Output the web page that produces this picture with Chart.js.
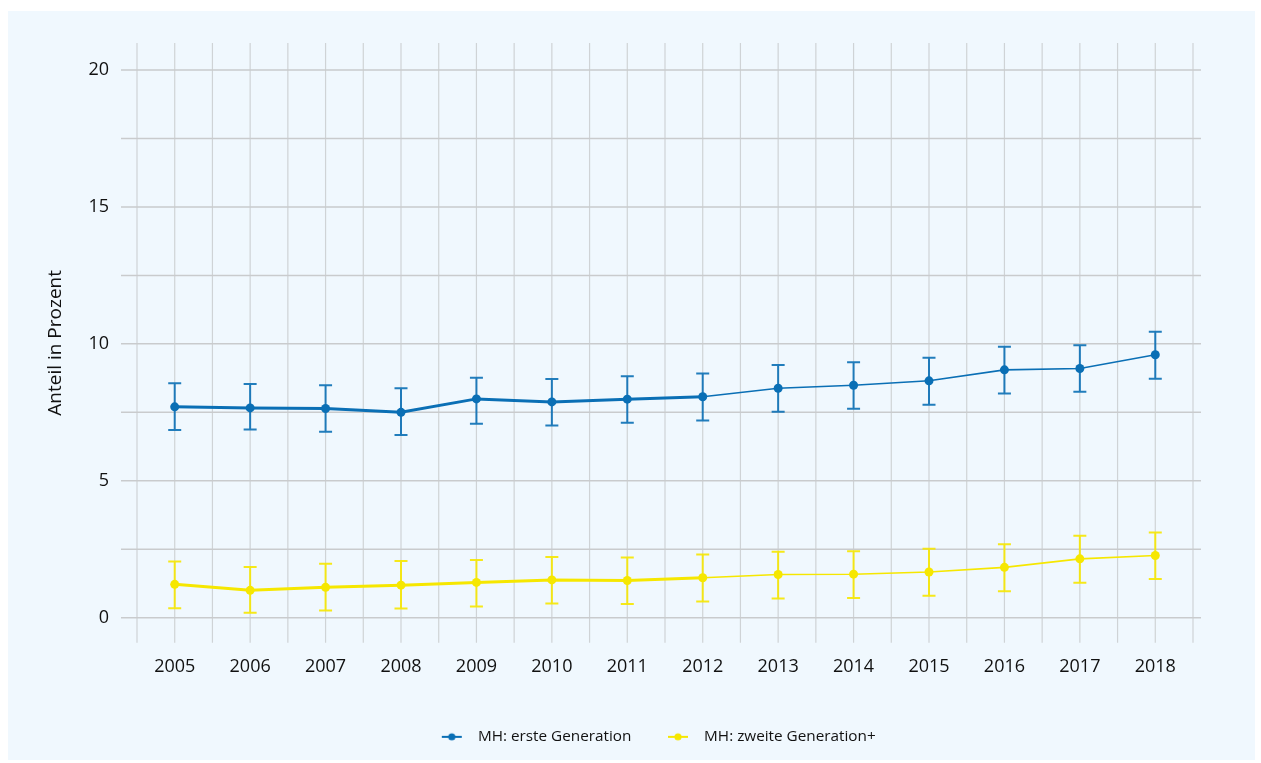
<!DOCTYPE html>
<html>
<head>
<meta charset="utf-8">
<script src="https://cdn.jsdelivr.net/npm/chart.js@4.4.1/dist/chart.umd.min.js"></script>
<style>
  html, body { margin: 0; padding: 0; background: #fff; }
  #panel { position: absolute; left: 8px; top: 11px; width: 1247px; height: 749px; background: #f0f8fe; }
  canvas { display: block; }
</style>
</head>
<body>
<div id="panel"><canvas id="chart" width="1247" height="749"></canvas></div>
<script>
const years = ['2005', '2006', '2007', '2008', '2009', '2010', '2011', '2012', '2013', '2014', '2015', '2016', '2017', '2018'];

const erste     = [7.70, 7.66, 7.64, 7.50, 7.99, 7.88, 7.98, 8.07, 8.38, 8.49, 8.65, 9.05, 9.10, 9.60];
const ersteLow  = [6.85, 6.87, 6.79, 6.67, 7.08, 7.02, 7.12, 7.20, 7.52, 7.63, 7.78, 8.19, 8.25, 8.73];
const ersteHigh = [8.56, 8.53, 8.49, 8.38, 8.76, 8.72, 8.82, 8.92, 9.23, 9.33, 9.49, 9.89, 9.95, 10.44];

const zweite     = [1.22, 1.00, 1.11, 1.19, 1.29, 1.38, 1.36, 1.46, 1.58, 1.59, 1.67, 1.84, 2.15, 2.27];
const zweiteLow  = [0.35, 0.18, 0.26, 0.34, 0.41, 0.52, 0.50, 0.59, 0.70, 0.72, 0.80, 0.97, 1.28, 1.41];
const zweiteHigh = [2.05, 1.85, 1.97, 2.07, 2.11, 2.22, 2.20, 2.31, 2.41, 2.43, 2.52, 2.68, 2.99, 3.11];

const yTicks = [0, 5, 10, 15, 20];
const yGrid = [0, 2.5, 5, 7.5, 10, 12.5, 15, 17.5, 20];

const BLUE = '#0a6fb5';
const YELLOW = '#f6e700';
const TEXT = '#111';
const FONT = "'Open Sans', 'Noto Sans', sans-serif";

function marker(color) {
  const c = document.createElement('canvas');
  c.width = 22; c.height = 10;
  const g = c.getContext('2d');
  g.strokeStyle = color; g.lineWidth = 2;
  g.beginPath(); g.moveTo(1, 5); g.lineTo(21, 5); g.stroke();
  g.fillStyle = color;
  g.beginPath(); g.arc(11, 5, 3.6, 0, Math.PI * 2); g.fill();
  return c;
}

// grid lines drawn under the data, positions taken from the scales
const gridPlugin = {
  id: 'grid',
  beforeDatasetsDraw(chart) {
    const { ctx, chartArea, scales: { x, y } } = chart;
    ctx.save();
    ctx.lineWidth = 1.2;
    ctx.strokeStyle = '#cfd3d6';
    const half = (x.getPixelForValue(1) - x.getPixelForValue(0)) / 2;
    const xs = [];
    years.forEach((yr, i) => {
      const p = x.getPixelForValue(i);
      xs.push(p - half, p);
      if (i === years.length - 1) xs.push(p + half);
    });
    xs.forEach(px => {
      ctx.beginPath();
      ctx.moveTo(px, chartArea.top);
      ctx.lineTo(px, chartArea.bottom);
      ctx.stroke();
    });
    ctx.lineWidth = 1.5;
    ctx.strokeStyle = '#c9cbcd';
    yGrid.forEach(v => {
      const py = y.getPixelForValue(v);
      ctx.beginPath();
      ctx.moveTo(chartArea.left - 16, py);
      ctx.lineTo(chartArea.right + 8, py);
      ctx.stroke();
    });
    ctx.restore();
  }
};

const errorPlugin = {
  id: 'errorbars',
  beforeDatasetsDraw(chart) {
    const { ctx, scales: { x, y } } = chart;
    const sets = [
      { low: ersteLow, high: ersteHigh, color: BLUE },
      { low: zweiteLow, high: zweiteHigh, color: YELLOW }
    ];
    ctx.save();
    ctx.lineWidth = 2;
    sets.forEach(s => {
      ctx.strokeStyle = s.color;
      ctx.globalAlpha = 0.9;
      s.low.forEach((lo, i) => {
        const px = x.getPixelForValue(i);
        const y0 = y.getPixelForValue(lo);
        const y1 = y.getPixelForValue(s.high[i]);
        ctx.beginPath();
        ctx.moveTo(px, y0); ctx.lineTo(px, y1);
        ctx.moveTo(px - 6.5, y0); ctx.lineTo(px + 6.5, y0);
        ctx.moveTo(px - 6.5, y1); ctx.lineTo(px + 6.5, y1);
        ctx.stroke();
      });
    });
    ctx.restore();
  }
};

const legendShift = {
  id: 'legendShift',
  afterLayout(chart) {
    chart.legend.left += 54;
    chart.legend.right += 54;
  }
};

const segWidth = ctx => ctx.p0DataIndex < 7 ? 3 : 1.6;

const ctx = document.getElementById('chart').getContext('2d');
const chart = new Chart(ctx, {
  type: 'line',
  data: {
    labels: years,
    datasets: [{
      label: 'MH: erste Generation',
      data: erste,
      borderColor: BLUE,
      backgroundColor: BLUE,
      borderWidth: 3,
      segment: { borderWidth: segWidth },
      pointRadius: 4.5,
      pointBorderWidth: 0,
      pointBackgroundColor: BLUE,
      tension: 0
    }, {
      label: 'MH: zweite Generation+',
      data: zweite,
      borderColor: YELLOW,
      backgroundColor: YELLOW,
      borderWidth: 3,
      segment: { borderWidth: segWidth },
      pointRadius: 4.5,
      pointBorderWidth: 0,
      pointBackgroundColor: YELLOW,
      tension: 0
    }]
  },
  options: {
    responsive: false,
    animation: false,
    layout: { padding: { left: 0, right: 62, top: 32, bottom: 5.5 } },
    plugins: {
      tooltip: { enabled: false },
      legend: {
        position: 'bottom',
        labels: {
          usePointStyle: true,
          pointStyleWidth: 37,
          padding: 28,
          color: TEXT,
          font: { family: FONT, size: 15.3 },
          generateLabels(chart) {
            return chart.data.datasets.map((ds, i) => ({
              text: ds.label,
              pointStyle: marker(ds.borderColor),
              fillStyle: ds.borderColor,
              strokeStyle: ds.borderColor,
              lineWidth: 0,
              hidden: false,
              datasetIndex: i,
              fontColor: TEXT
            }));
          }
        }
      }
    },
    scales: {
      x: {
        type: 'category',
        offset: true,
        grid: { display: false, drawTicks: false },
        border: { display: false },
        ticks: { padding: 13, color: TEXT, font: { family: FONT, size: 18 }, maxRotation: 0 },
        afterFit(scale) { scale.height = 58.5; }
      },
      y: {
        min: -0.912,
        max: 20.985,
        grid: { display: false, drawTicks: false },
        border: { display: false },
        afterBuildTicks(scale) { scale.ticks = yTicks.map(v => ({ value: v })); },
        ticks: { padding: 28, color: TEXT, font: { family: FONT, size: 18 } },
        title: {
          display: true,
          text: 'Anteil in Prozent',
          color: TEXT,
          font: { family: FONT, size: 19 },
          padding: { top: 36, bottom: 0 }
        },
        afterFit(scale) {
          scale.width = 129;
          scale.paddingTop = 0;
          scale.paddingBottom = 0;
        }
      }
    }
  },
  plugins: [gridPlugin, errorPlugin, legendShift]
});
</script>
</body>
</html>
